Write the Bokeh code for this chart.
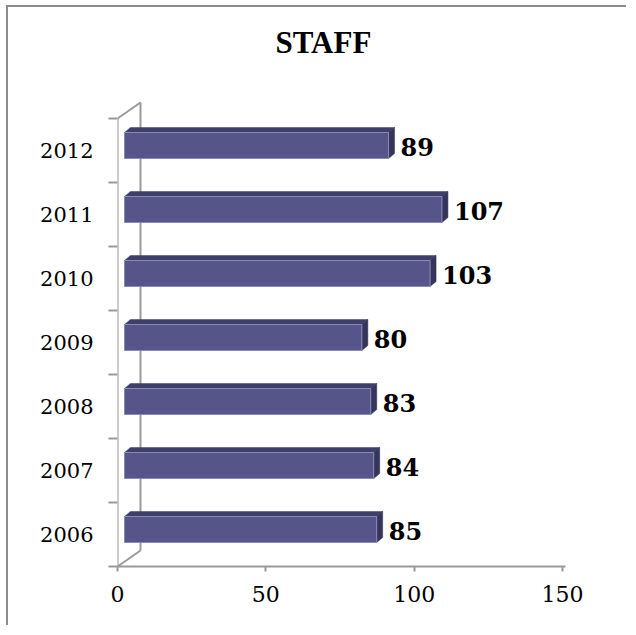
from bokeh.plotting import figure
from bokeh.layouts import column
from bokeh.models import Range1d, FixedTicker, ColumnDataSource
from bokeh.core.properties import value
from bokeh.embed import file_html
from bokeh.resources import INLINE

# ---- data ----
years = ["2006", "2007", "2008", "2009", "2010", "2011", "2012"]
staff = [85, 84, 83, 80, 103, 107, 89]
x_ticks = [0, 50, 100, 150]
title_text = "STAFF"

# ---- layout (pixels) ----
W, H = 620, 620
ML, MR, MT, MB = 109, 63, 60, 61
PX_PER_X = (W - ML - MR) / 151.0
PX_PER_Y = 64.0
XMAX = (W - ML - MR) / PX_PER_X
YMAX = (H - MT - MB) / PX_PER_Y
n = len(years)

# 3D depth offsets converted to data units
WALL_DX, WALL_DY = 23 / PX_PER_X, 16 / PX_PER_Y
FRONT_DX, FRONT_DY = 7 / PX_PER_X, 5 / PX_PER_Y
BAR_DX, BAR_DY = 6 / PX_PER_X, 5 / PX_PER_Y
BAR_H = 26 / PX_PER_Y

GRAY = "#9a9a9a"
FACE = "#55558a"
TOP = "#3f3f6b"
SIDE = "#35355b"

p = figure(width=W, height=H, x_range=Range1d(0, XMAX), y_range=Range1d(0, YMAX),
           output_backend="svg", toolbar_location=None,
           min_border_left=ML, min_border_right=MR, min_border_top=MT, min_border_bottom=MB)
p.background_fill_color = "white"
p.border_fill_color = "white"
p.outline_line_color = None
p.xgrid.grid_line_color = None
p.ygrid.grid_line_color = None

# title
p.title.text = title_text
p.title.align = "left"
p.title.vertical_align = "top"
p.title.text_font = "Liberation Serif"
p.title.text_font_style = "bold"
p.title.text_font_size = "31px"
p.title.text_color = "black"
p.title.offset = 158
p.title.standoff = 12

# x axis
p.xaxis.ticker = FixedTicker(ticks=x_ticks)
p.xaxis.axis_line_color = GRAY
p.xaxis.axis_line_width = 2
p.xaxis.major_tick_line_color = GRAY
p.xaxis.major_tick_line_width = 2
p.xaxis.major_tick_in = 0
p.xaxis.major_tick_out = 5
p.xaxis.minor_tick_line_color = None
p.xaxis.major_label_text_font = "DejaVu Serif"
p.xaxis.major_label_text_font_size = "22px"
p.xaxis.major_label_text_color = "black"
p.xaxis.major_label_standoff = 14

# y axis: labels at category centres, ticks at boundaries
p.yaxis.ticker = FixedTicker(ticks=[i + 0.5 for i in range(n)], minor_ticks=list(range(n + 1)))
p.yaxis.major_label_overrides = {i + 0.5: years[i] for i in range(n)}
p.yaxis.axis_line_color = None
p.yaxis.major_tick_line_color = None
p.yaxis.major_tick_out = 0
p.yaxis.major_tick_in = 0
p.yaxis.minor_tick_line_color = GRAY
p.yaxis.minor_tick_line_width = 2
p.yaxis.minor_tick_out = 9
p.yaxis.minor_tick_in = 0
p.yaxis.major_label_text_font = "DejaVu Serif"
p.yaxis.major_label_text_font_size = "21px"
p.yaxis.major_label_text_color = "black"
p.yaxis.major_label_standoff = 15

# side wall lines
p.segment(x0=[0, 0, WALL_DX, 0], y0=[0, n, WALL_DY, 0],
          x1=[0, WALL_DX, WALL_DX, WALL_DX], y1=[n, n + WALL_DY, n + WALL_DY, WALL_DY],
          line_color=GRAY, line_width=2)

# 3D bars
x0 = [FRONT_DX for _ in staff]
x1 = [v + FRONT_DX for v in staff]
yc = [i + 0.5 + FRONT_DY for i in range(n)]
yb = [c - BAR_H / 2 for c in yc]
yt = [c + BAR_H / 2 for c in yc]

top_xs = [[a, b, b + BAR_DX, a + BAR_DX] for a, b in zip(x0, x1)]
top_ys = [[t, t, t + BAR_DY, t + BAR_DY] for t in yt]
side_xs = [[b, b, b + BAR_DX, b + BAR_DX] for b in x1]
side_ys = [[lo, t, t + BAR_DY, lo + BAR_DY] for lo, t in zip(yb, yt)]

p.patches(xs=top_xs, ys=top_ys, fill_color=TOP, line_color=TOP, line_width=0.5)
p.patches(xs=side_xs, ys=side_ys, fill_color=SIDE, line_color=SIDE, line_width=0.5)
src = ColumnDataSource(dict(left=x0, right=x1, y=yc, val=[str(v) for v in staff],
                            tx=[b + BAR_DX for b in x1]))
p.hbar(y="y", left="left", right="right", height=BAR_H, source=src,
       fill_color=FACE, line_color="#8a8ab8", line_width=1)

p.text(x="tx", y="y", text="val", source=src, x_offset=6, y_offset=1,
       text_baseline="middle", text_align="left",
       text_font=value("DejaVu Serif"), text_font_style="bold",
       text_font_size="24px", text_color="black")

layout = column(p, styles={"margin-left": "8px", "margin-top": "7px",
                           "box-shadow": "-2px -2px 0px 0px #8c8c8c"})

open("out.html", "w").write(file_html(layout, INLINE))
